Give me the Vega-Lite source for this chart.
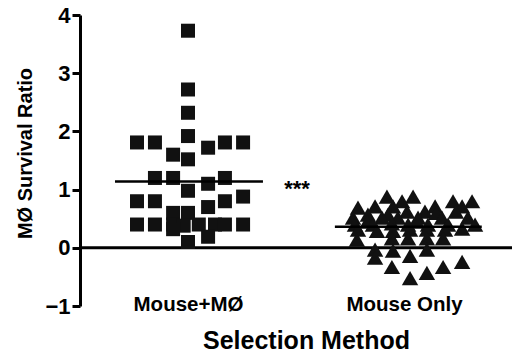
{
  "$schema": "https://vega.github.io/schema/vega-lite/v6.json",
  "width": 432,
  "height": 291,
  "autosize": "none",
  "padding": {"left": 80, "top": 15, "right": 0, "bottom": 48},
  "background": "white",
  "config": {
    "view": {"stroke": null},
    "font": "Liberation Sans",
    "axis": {"grid": false}
  },
  "datasets": {
    "points": [
      {"group": "Mouse+MØ", "pos": 1.0, "ratio": 3.73},
      {"group": "Mouse+MØ", "pos": 1.0, "ratio": 2.72},
      {"group": "Mouse+MØ", "pos": 1.0, "ratio": 2.32},
      {"group": "Mouse+MØ", "pos": 1.0, "ratio": 1.92},
      {"group": "Mouse+MØ", "pos": 0.764, "ratio": 1.81},
      {"group": "Mouse+MØ", "pos": 0.847, "ratio": 1.81},
      {"group": "Mouse+MØ", "pos": 1.171, "ratio": 1.81},
      {"group": "Mouse+MØ", "pos": 1.255, "ratio": 1.81},
      {"group": "Mouse+MØ", "pos": 0.931, "ratio": 1.6},
      {"group": "Mouse+MØ", "pos": 1.093, "ratio": 1.72},
      {"group": "Mouse+MØ", "pos": 1.0, "ratio": 1.52},
      {"group": "Mouse+MØ", "pos": 0.847, "ratio": 1.2},
      {"group": "Mouse+MØ", "pos": 0.931, "ratio": 1.2},
      {"group": "Mouse+MØ", "pos": 1.171, "ratio": 1.2},
      {"group": "Mouse+MØ", "pos": 1.093, "ratio": 1.1},
      {"group": "Mouse+MØ", "pos": 1.0, "ratio": 0.98},
      {"group": "Mouse+MØ", "pos": 0.764, "ratio": 0.8},
      {"group": "Mouse+MØ", "pos": 0.847, "ratio": 0.8},
      {"group": "Mouse+MØ", "pos": 1.171, "ratio": 0.8},
      {"group": "Mouse+MØ", "pos": 1.255, "ratio": 0.88},
      {"group": "Mouse+MØ", "pos": 1.093, "ratio": 0.7},
      {"group": "Mouse+MØ", "pos": 0.931, "ratio": 0.6},
      {"group": "Mouse+MØ", "pos": 1.0, "ratio": 0.6},
      {"group": "Mouse+MØ", "pos": 0.764, "ratio": 0.4},
      {"group": "Mouse+MØ", "pos": 0.847, "ratio": 0.4},
      {"group": "Mouse+MØ", "pos": 0.931, "ratio": 0.4},
      {"group": "Mouse+MØ", "pos": 0.98, "ratio": 0.38},
      {"group": "Mouse+MØ", "pos": 1.05, "ratio": 0.4},
      {"group": "Mouse+MØ", "pos": 1.125, "ratio": 0.4},
      {"group": "Mouse+MØ", "pos": 1.171, "ratio": 0.4},
      {"group": "Mouse+MØ", "pos": 1.255, "ratio": 0.4},
      {"group": "Mouse+MØ", "pos": 0.931, "ratio": 0.32},
      {"group": "Mouse+MØ", "pos": 1.0, "ratio": 0.1},
      {"group": "Mouse+MØ", "pos": 1.093, "ratio": 0.19},
      {"group": "Mouse Only", "pos": 1.921, "ratio": 0.88},
      {"group": "Mouse Only", "pos": 2.042, "ratio": 0.88},
      {"group": "Mouse Only", "pos": 1.991, "ratio": 0.8},
      {"group": "Mouse Only", "pos": 2.227, "ratio": 0.8},
      {"group": "Mouse Only", "pos": 2.315, "ratio": 0.8},
      {"group": "Mouse Only", "pos": 1.787, "ratio": 0.69},
      {"group": "Mouse Only", "pos": 1.866, "ratio": 0.71},
      {"group": "Mouse Only", "pos": 1.949, "ratio": 0.71},
      {"group": "Mouse Only", "pos": 2.144, "ratio": 0.71},
      {"group": "Mouse Only", "pos": 2.269, "ratio": 0.71},
      {"group": "Mouse Only", "pos": 2.014, "ratio": 0.62},
      {"group": "Mouse Only", "pos": 2.097, "ratio": 0.62},
      {"group": "Mouse Only", "pos": 1.833, "ratio": 0.57},
      {"group": "Mouse Only", "pos": 1.926, "ratio": 0.57},
      {"group": "Mouse Only", "pos": 2.15, "ratio": 0.6},
      {"group": "Mouse Only", "pos": 2.24, "ratio": 0.62},
      {"group": "Mouse Only", "pos": 1.764, "ratio": 0.52},
      {"group": "Mouse Only", "pos": 1.898, "ratio": 0.52},
      {"group": "Mouse Only", "pos": 1.972, "ratio": 0.52},
      {"group": "Mouse Only", "pos": 2.065, "ratio": 0.52},
      {"group": "Mouse Only", "pos": 2.176, "ratio": 0.52},
      {"group": "Mouse Only", "pos": 2.296, "ratio": 0.52},
      {"group": "Mouse Only", "pos": 1.83, "ratio": 0.45},
      {"group": "Mouse Only", "pos": 2.06, "ratio": 0.45},
      {"group": "Mouse Only", "pos": 1.773, "ratio": 0.4},
      {"group": "Mouse Only", "pos": 1.856, "ratio": 0.4},
      {"group": "Mouse Only", "pos": 1.944, "ratio": 0.42},
      {"group": "Mouse Only", "pos": 2.019, "ratio": 0.4},
      {"group": "Mouse Only", "pos": 2.111, "ratio": 0.4},
      {"group": "Mouse Only", "pos": 2.204, "ratio": 0.4},
      {"group": "Mouse Only", "pos": 2.329, "ratio": 0.4},
      {"group": "Mouse Only", "pos": 1.787, "ratio": 0.31},
      {"group": "Mouse Only", "pos": 1.875, "ratio": 0.29},
      {"group": "Mouse Only", "pos": 1.949, "ratio": 0.29},
      {"group": "Mouse Only", "pos": 2.028, "ratio": 0.31},
      {"group": "Mouse Only", "pos": 2.106, "ratio": 0.31},
      {"group": "Mouse Only", "pos": 2.19, "ratio": 0.31},
      {"group": "Mouse Only", "pos": 2.269, "ratio": 0.33},
      {"group": "Mouse Only", "pos": 1.782, "ratio": 0.14},
      {"group": "Mouse Only", "pos": 1.944, "ratio": 0.16},
      {"group": "Mouse Only", "pos": 2.019, "ratio": 0.16},
      {"group": "Mouse Only", "pos": 2.106, "ratio": 0.16},
      {"group": "Mouse Only", "pos": 2.181, "ratio": 0.16},
      {"group": "Mouse Only", "pos": 1.866, "ratio": -0.03},
      {"group": "Mouse Only", "pos": 1.949, "ratio": -0.05},
      {"group": "Mouse Only", "pos": 2.106, "ratio": -0.03},
      {"group": "Mouse Only", "pos": 1.866, "ratio": -0.17},
      {"group": "Mouse Only", "pos": 2.028, "ratio": -0.14},
      {"group": "Mouse Only", "pos": 1.944, "ratio": -0.33},
      {"group": "Mouse Only", "pos": 2.181, "ratio": -0.33},
      {"group": "Mouse Only", "pos": 2.269, "ratio": -0.24},
      {"group": "Mouse Only", "pos": 2.106, "ratio": -0.43},
      {"group": "Mouse Only", "pos": 2.028, "ratio": -0.52}
    ],
    "means": [
      {"group": "Mouse+MØ", "start": 0.662, "end": 1.347, "mean": 1.14},
      {"group": "Mouse Only", "start": 1.68, "end": 2.36, "mean": 0.36}
    ],
    "annot": [{"pos": 1.505, "ratio": 1.1, "label": "***"}]
  },
  "layer": [
    {
      "data": {"values": [{"zero": 0}]},
      "mark": {"type": "rule", "color": "black", "strokeWidth": 3},
      "encoding": {"y": {"field": "zero", "type": "quantitative"}}
    },
    {
      "data": {"name": "points"},
      "mark": {"type": "point", "filled": true, "opacity": 1, "color": "#111111"},
      "encoding": {
        "x": {
          "field": "pos", "type": "quantitative",
          "scale": {"domain": [0.5, 2.5], "nice": false, "zero": false},
          "axis": {
            "values": [1, 2],
            "labelExpr": "datum.value == 1 ? 'Mouse+MØ' : 'Mouse Only'",
            "domain": false, "ticks": false,
            "labelFont": "Liberation Sans", "labelFontWeight": "bold", "labelFontSize": 20.5, "labelColor": "black",
            "labelPadding": -12,
            "title": "Selection Method",
            "titleFont": "Liberation Sans", "titleFontWeight": "bold", "titleFontSize": 25, "titleColor": "black",
            "titlePadding": 14,
            "titleX": 226
          }
        },
        "y": {
          "field": "ratio", "type": "quantitative",
          "scale": {"domain": [-1, 4], "nice": false, "zero": false},
          "axis": {
            "values": [-1, 0, 1, 2, 3, 4],
            "format": "d",
            "domainColor": "black", "domainWidth": 3,
            "tickColor": "black", "tickWidth": 3, "tickSize": 8,
            "labelFont": "Liberation Sans", "labelFontWeight": "bold", "labelFontSize": 22, "labelColor": "black",
            "labelPadding": 2,
            "title": "MØ Survival Ratio",
            "titleFont": "Liberation Sans", "titleFontWeight": "bold", "titleFontSize": 20, "titleColor": "black",
            "titlePadding": 9,
            "titleY": 138
          }
        },
        "shape": {
          "field": "group", "type": "nominal",
          "scale": {"domain": ["Mouse+MØ", "Mouse Only"], "range": ["square", "triangle-up"]},
          "legend": null
        },
        "size": {
          "field": "group", "type": "nominal",
          "scale": {"domain": ["Mouse+MØ", "Mouse Only"], "range": [196, 270]},
          "legend": null
        }
      }
    },
    {
      "data": {"name": "means"},
      "mark": {"type": "rule", "color": "black", "strokeWidth": 2.5},
      "encoding": {
        "x": {"field": "start", "type": "quantitative"},
        "x2": {"field": "end"},
        "y": {"field": "mean", "type": "quantitative"}
      }
    },
    {
      "data": {"name": "annot"},
      "mark": {"type": "text", "font": "Liberation Sans", "fontSize": 22, "fontWeight": "bold", "color": "black", "baseline": "middle", "align": "center", "dy": 5},
      "encoding": {
        "x": {"field": "pos", "type": "quantitative"},
        "y": {"field": "ratio", "type": "quantitative"},
        "text": {"field": "label"}
      }
    }
  ]
}
